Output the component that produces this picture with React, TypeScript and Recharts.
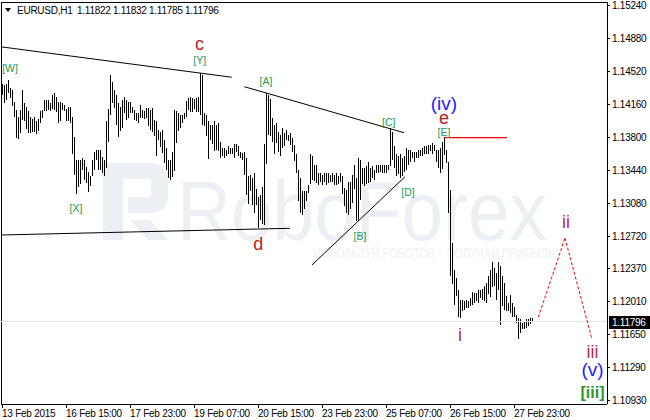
import React from 'react';
import { ComposedChart, Bar, XAxis, YAxis, ReferenceLine, ReferenceDot } from 'recharts';

// ---- data ----
const symbolName = 'EURUSD,H1';
const lastBarOHLC = [1.11822, 1.11832, 1.11785, 1.11796];

const barHighs = [
  1.1439, 1.1438, 1.1439, 1.1443, 1.1434, 1.1432, 1.1419, 1.1410, 1.1403, 1.1410,
  1.1432, 1.1418, 1.1414, 1.1409, 1.1403, 1.1401, 1.1403, 1.1399, 1.1401, 1.1409,
  1.1410, 1.1421, 1.1421, 1.1421, 1.1418, 1.1427, 1.1429, 1.1425, 1.1419, 1.1419,
  1.1418, 1.1416, 1.1412, 1.1414, 1.1414, 1.1403, 1.1381, 1.1356, 1.1356, 1.1356,
  1.1358, 1.1356, 1.1348, 1.1343, 1.1339, 1.1356, 1.1365, 1.1367, 1.1367, 1.1367,
  1.1359, 1.1356, 1.1399, 1.1412, 1.1449, 1.1441, 1.1432, 1.1427, 1.1418, 1.1414,
  1.1421, 1.1425, 1.1421, 1.1419, 1.1419, 1.1414, 1.1410, 1.1407, 1.1407, 1.1416,
  1.1411, 1.1409, 1.1413, 1.1413, 1.1411, 1.1413, 1.1400, 1.1398, 1.1389, 1.1387,
  1.1389, 1.1378, 1.1369, 1.1356, 1.1356, 1.1365, 1.1411, 1.1409, 1.1407, 1.1405,
  1.1405, 1.1407, 1.1420, 1.1424, 1.1425, 1.1424, 1.1422, 1.1424, 1.1425, 1.1451,
  1.1449, 1.1407, 1.1405, 1.1398, 1.1394, 1.1394, 1.1398, 1.1394, 1.1396, 1.1376,
  1.1369, 1.1369, 1.1367, 1.1371, 1.1369, 1.1369, 1.1373, 1.1373, 1.1371, 1.1365,
  1.1364, 1.1365, 1.1358, 1.1338, 1.1340, 1.1336, 1.1342, 1.1324, 1.1316, 1.1318,
  1.1327, 1.1373, 1.1429, 1.1427, 1.1423, 1.1402, 1.1394, 1.1396, 1.1387, 1.1383,
  1.1391, 1.1385, 1.1389, 1.1383, 1.1385, 1.1380, 1.1372, 1.1363, 1.1345, 1.1336,
  1.1322, 1.1322, 1.1322, 1.1329, 1.1362, 1.1360, 1.1351, 1.1351, 1.1342, 1.1342,
  1.1340, 1.1342, 1.1342, 1.1342, 1.1340, 1.1342, 1.1340, 1.1342, 1.1338, 1.1342,
  1.1338, 1.1325, 1.1323, 1.1332, 1.1332, 1.1340, 1.1351, 1.1336, 1.1358, 1.1356,
  1.1347, 1.1347, 1.1349, 1.1354, 1.1347, 1.1349, 1.1345, 1.1351, 1.1351, 1.1351,
  1.1351, 1.1351, 1.1351, 1.1351, 1.1391, 1.1387, 1.1371, 1.1362, 1.1360, 1.1362,
  1.1358, 1.1360, 1.1369, 1.1367, 1.1367, 1.1365, 1.1365, 1.1365, 1.1367, 1.1367,
  1.1369, 1.1371, 1.1371, 1.1372, 1.1372, 1.1374, 1.1372, 1.1367, 1.1367, 1.1369,
  1.1376, 1.1380, 1.1367, 1.1354, 1.1323, 1.1265, 1.1236, 1.1227, 1.1214, 1.1203,
  1.1203, 1.1202, 1.1203, 1.1202, 1.1205, 1.1212, 1.1211, 1.1211, 1.1214, 1.1214,
  1.1215, 1.1218, 1.1222, 1.1229, 1.1236, 1.1245, 1.1238, 1.1233, 1.1245, 1.1240,
  1.1229, 1.1222, 1.1207, 1.1200, 1.1209, 1.1200, 1.1196, 1.1187, 1.1183, 1.1182,
  1.1178, 1.1180, 1.1182, 1.1182, 1.1183, 1.1183,
];

const barLows = [
  1.1427, 1.1418, 1.1421, 1.1429, 1.1423, 1.1414, 1.1403, 1.1379, 1.1379, 1.1385,
  1.1399, 1.1398, 1.1390, 1.1385, 1.1385, 1.1387, 1.1387, 1.1385, 1.1388, 1.1396,
  1.1401, 1.1409, 1.1409, 1.1410, 1.1409, 1.1412, 1.1410, 1.1409, 1.1396, 1.1398,
  1.1410, 1.1409, 1.1399, 1.1399, 1.1396, 1.1363, 1.1339, 1.1319, 1.1327, 1.1330,
  1.1345, 1.1334, 1.1330, 1.1321, 1.1328, 1.1338, 1.1345, 1.1356, 1.1345, 1.1345,
  1.1341, 1.1338, 1.1348, 1.1376, 1.1405, 1.1418, 1.1412, 1.1394, 1.1381, 1.1388,
  1.1390, 1.1407, 1.1399, 1.1401, 1.1407, 1.1407, 1.1399, 1.1398, 1.1396, 1.1402,
  1.1402, 1.1400, 1.1402, 1.1393, 1.1389, 1.1387, 1.1382, 1.1360, 1.1378, 1.1371,
  1.1364, 1.1353, 1.1345, 1.1336, 1.1334, 1.1338, 1.1344, 1.1374, 1.1387, 1.1391,
  1.1396, 1.1400, 1.1402, 1.1411, 1.1409, 1.1409, 1.1411, 1.1409, 1.1409, 1.1405,
  1.1394, 1.1393, 1.1382, 1.1356, 1.1378, 1.1373, 1.1365, 1.1367, 1.1365, 1.1358,
  1.1360, 1.1358, 1.1360, 1.1362, 1.1362, 1.1362, 1.1358, 1.1364, 1.1360, 1.1358,
  1.1356, 1.1340, 1.1318, 1.1307, 1.1322, 1.1307, 1.1298, 1.1307, 1.1282, 1.1291,
  1.1287, 1.1285, 1.1351, 1.1383, 1.1383, 1.1376, 1.1362, 1.1374, 1.1365, 1.1360,
  1.1369, 1.1371, 1.1378, 1.1376, 1.1372, 1.1365, 1.1354, 1.1342, 1.1311, 1.1298,
  1.1296, 1.1302, 1.1311, 1.1320, 1.1329, 1.1334, 1.1334, 1.1331, 1.1329, 1.1332,
  1.1329, 1.1332, 1.1329, 1.1331, 1.1332, 1.1332, 1.1329, 1.1329, 1.1329, 1.1332,
  1.1318, 1.1305, 1.1298, 1.1296, 1.1303, 1.1309, 1.1325, 1.1289, 1.1289, 1.1312,
  1.1329, 1.1327, 1.1329, 1.1331, 1.1332, 1.1336, 1.1334, 1.1342, 1.1342, 1.1343,
  1.1342, 1.1342, 1.1342, 1.1345, 1.1349, 1.1356, 1.1347, 1.1338, 1.1340, 1.1336,
  1.1338, 1.1343, 1.1345, 1.1351, 1.1354, 1.1358, 1.1354, 1.1358, 1.1358, 1.1360,
  1.1360, 1.1362, 1.1362, 1.1362, 1.1365, 1.1362, 1.1365, 1.1354, 1.1347, 1.1342,
  1.1346, 1.1361, 1.1353, 1.1298, 1.1229, 1.1220, 1.1198, 1.1207, 1.1185, 1.1183,
  1.1191, 1.1192, 1.1194, 1.1194, 1.1196, 1.1198, 1.1200, 1.1202, 1.1200, 1.1205,
  1.1203, 1.1202, 1.1200, 1.1209, 1.1207, 1.1218, 1.1218, 1.1203, 1.1214, 1.1176,
  1.1196, 1.1192, 1.1191, 1.1191, 1.1189, 1.1185, 1.1185, 1.1178, 1.1160, 1.1167,
  1.1171, 1.1171, 1.1172, 1.1174, 1.1176, 1.1179,
];

const timeTickBars = [0, 32, 64, 96, 128, 160, 192, 224, 256];
const timeLabels = [
  '13 Feb 2015', '16 Feb 15:00', '17 Feb 23:00', '19 Feb 07:00', '20 Feb 15:00',
  '23 Feb 23:00', '25 Feb 07:00', '26 Feb 15:00', '27 Feb 23:00',
];
const priceTicks = [
  1.1093, 1.1129, 1.1165, 1.1201, 1.1237, 1.1272, 1.1308, 1.1344, 1.138, 1.1416, 1.1452, 1.1488, 1.1524,
];

// trend lines: [barFrom, priceFrom, barTo, priceTo]
const trendLines = [
  [-0.75, 1.14794, 114.6, 1.14462],
  [-0.75, 1.12741, 143.75, 1.12814],
  [120.9, 1.14359, 200.75, 1.13857],
  [154.75, 1.12414, 201.25, 1.13377],
];
const levelBars = [220.75, 252.25];
const levelPrice = 1.13803;
const projectionBars = [267.9, 281.25, 294.6];
const projectionPrices = [1.11843, 1.12708, 1.11614];

const waveLabelText = ['[W]', 'c', '[Y]', '[A]', '[X]', 'd', '[B]', '[D]', '[C]', '[E]', 'e', '(iv)', 'i', 'ii', 'iii', '(v)', '[iii]'];
const waveLabelBar = [3.75, 98.5, 98.6, 131.75, 36.75, 127.9, 178.75, 202.75, 193.1, 220.75, 220.75, 220.75, 228.75, 281.75, 295, 295, 295];
const waveLabelPrice = [1.14519, 1.14759, 1.14607, 1.14378, 1.12992, 1.12577, 1.12687, 1.13166, 1.1393, 1.13821, 1.13952, 1.14105, 1.11585, 1.12817, 1.11399, 1.11203, 1.10963];
const waveLabelDegree = ['minor', 'letter', 'minor', 'minor', 'minor', 'letter', 'minor', 'minor', 'minor', 'minor', 'letter', 'paren', 'roman', 'roman', 'roman', 'paren', 'major'];

// ---- styles ----
const FONT = '"Liberation Sans", Arial, sans-serif';
const labelStyles: Record<string, any> = {
  minor: { fill: '#1F9A55', fontSize: 10.5, fontWeight: 400 },
  letter: { fill: '#BE2020', fontSize: 18, fontWeight: 400 },
  paren: { fill: '#2222FF', fontSize: 19, fontWeight: 400 },
  roman: { fill: '#B0305A', fontSize: 18, fontWeight: 400 },
  major: { fill: '#2A962A', fontSize: 16, fontWeight: 700 },
};

const bars = barHighs.map((h, i) => ({ i, range: [barLows[i], h] }));

const Stick = (props: any) => {
  const { x, y, width, height } = props;
  if (x == null || y == null) return null;
  const cx = Math.floor(x + width / 2);
  return (
    <rect x={cx} y={Math.round(y)} width={1} height={Math.max(1, Math.round(height))} fill="#000" shapeRendering="crispEdges" />
  );
};

const TimeTick = (props: any) => {
  const { x, y, payload } = props;
  const idx = timeTickBars.indexOf(payload.value);
  return (
    <text x={x - 0.5} y={y + 9} fontSize={10} letterSpacing="-0.25px" fontFamily={FONT} fill="#000" textAnchor="start">
      {idx >= 0 ? timeLabels[idx] : ''}
    </text>
  );
};

const PriceTick = (props: any) => {
  const { x, y, payload } = props;
  return (
    <text x={x} y={y + 3.5} fontSize={10} letterSpacing="-0.25px" fontFamily={FONT} fill="#000" textAnchor="start">
      {Number(payload.value).toFixed(5)}
    </text>
  );
};

const PriceTag = (props: any) => {
  const vb = props.viewBox || {};
  const right = (vb.x || 0) + (vb.width || 0);
  const cy = vb.y || 0;
  return (
    <g>
      <rect x={right + 2} y={Math.round(cy) - 6} width={41} height={13} fill="#000" />
      <text x={right + 5} y={cy + 4} fontSize={10} letterSpacing="-0.25px" fontFamily={FONT} fill="#fff">
        {lastBarOHLC[3].toFixed(5)}
      </text>
    </g>
  );
};

export default function App() {
  return (
    <div style={{ position: 'absolute', left: 0, top: 0, width: 650, height: 420, background: '#fff', overflow: 'hidden' }}>
      {/* watermark */}
      <svg width={650} height={420} style={{ position: 'absolute', left: 0, top: 0 }}>
        <g fill="#ECEFF4">
          <rect x={103} y={163} width={20} height={77} />
          <path d="M123 163 H150 Q168 163 168 181 V195 Q168 213 150 213 H128 V197 H148 Q151 197 151 194 V182 Q151 179 148 179 H123 Z" />
          <polygon points="130,220 150,220 168,240 148,240" />
          <text x={177} y={240} fontSize={84} fontFamily={FONT} textLength={370} lengthAdjust="spacingAndGlyphs">RoboForex</text>
        </g>
        <text x={313} y={258} fontSize={14} fill="#EFF1F5" fontFamily={FONT} textLength={242} lengthAdjust="spacingAndGlyphs">
          ИСПОЛЬЗУЙ РОБОТОВ – ПОЛУЧАЙ ПРИБЫЛЬ
        </text>
      </svg>
      <div style={{ position: 'absolute', left: 0, top: 0 }}>
        <ComposedChart width={650} height={420} data={bars} margin={{ top: 2, right: 0, bottom: 0, left: 1 }}>
          <XAxis
            dataKey="i"
            type="number"
            domain={[-0.75, 302.25]}
            allowDataOverflow
            ticks={timeTickBars}
            interval={0}
            height={16}
            tickSize={4}
            tickMargin={0}
            tick={TimeTick}
            axisLine={{ stroke: '#000', shapeRendering: 'crispEdges' }}
            tickLine={{ stroke: '#000', shapeRendering: 'crispEdges' }}
          />
          <YAxis
            orientation="right"
            type="number"
            width={43}
            domain={[1.10897, 1.15283]}
            allowDataOverflow
            ticks={priceTicks}
            interval={0}
            tickSize={3}
            tickMargin={2}
            tick={PriceTick}
            axisLine={{ stroke: '#000', shapeRendering: 'crispEdges' }}
            tickLine={{ stroke: '#000', shapeRendering: 'crispEdges' }}
          />
          <ReferenceLine y={1.15283} stroke="#000" shapeRendering="crispEdges" />
          <ReferenceLine x={-0.75} stroke="#000" shapeRendering="crispEdges" />
          <ReferenceLine y={lastBarOHLC[3]} stroke="#E6E6E6" shapeRendering="crispEdges" label={PriceTag} />
          <Bar dataKey="range" isAnimationActive={false} shape={Stick} />
          {trendLines.map((t, k) => (
            <ReferenceLine
              key={'t' + k}
              segment={[{ x: t[0], y: t[1] }, { x: t[2], y: t[3] }]}
              stroke="#000"
              strokeWidth={1}
              ifOverflow="visible"
            />
          ))}
          <ReferenceLine
            segment={[{ x: levelBars[0], y: levelPrice }, { x: levelBars[1], y: levelPrice }]}
            stroke="#FF0000"
            strokeWidth={1.2}
            ifOverflow="visible"
          />
          {projectionBars.slice(1).map((b, k) => (
            <ReferenceLine
              key={'p' + k}
              segment={[{ x: projectionBars[k], y: projectionPrices[k] }, { x: b, y: projectionPrices[k + 1] }]}
              stroke="#FF0000"
              strokeDasharray="3 2"
              ifOverflow="visible"
            />
          ))}
          {waveLabelText.map((txt, k) => {
            const st = labelStyles[waveLabelDegree[k]];
            return (
              <ReferenceDot
                key={'l' + k}
                x={waveLabelBar[k]}
                y={waveLabelPrice[k]}
                r={0}
                ifOverflow="visible"
                shape={(p: any) => (
                  <text x={p.cx} y={p.cy} textAnchor="middle" fontFamily={FONT} {...st}>
                    {txt}
                  </text>
                )}
              />
            );
          })}
        </ComposedChart>
      </div>
      {/* header */}
      <svg width={650} height={20} style={{ position: 'absolute', left: 0, top: 0, pointerEvents: 'none' }}>
        <polygon points="5,8 11,8 8,12" fill="#000" />
        <text x={17} y={13.5} fontSize={10} letterSpacing="-0.25px" fontFamily={FONT} fill="#000">{symbolName}</text>
        {lastBarOHLC.map((v, k) => (
          <text key={k} x={77 + k * 36} y={13.5} fontSize={10} letterSpacing="-0.25px" fontFamily={FONT} fill="#000">
            {v.toFixed(5)}
          </text>
        ))}
      </svg>
    </div>
  );
}
